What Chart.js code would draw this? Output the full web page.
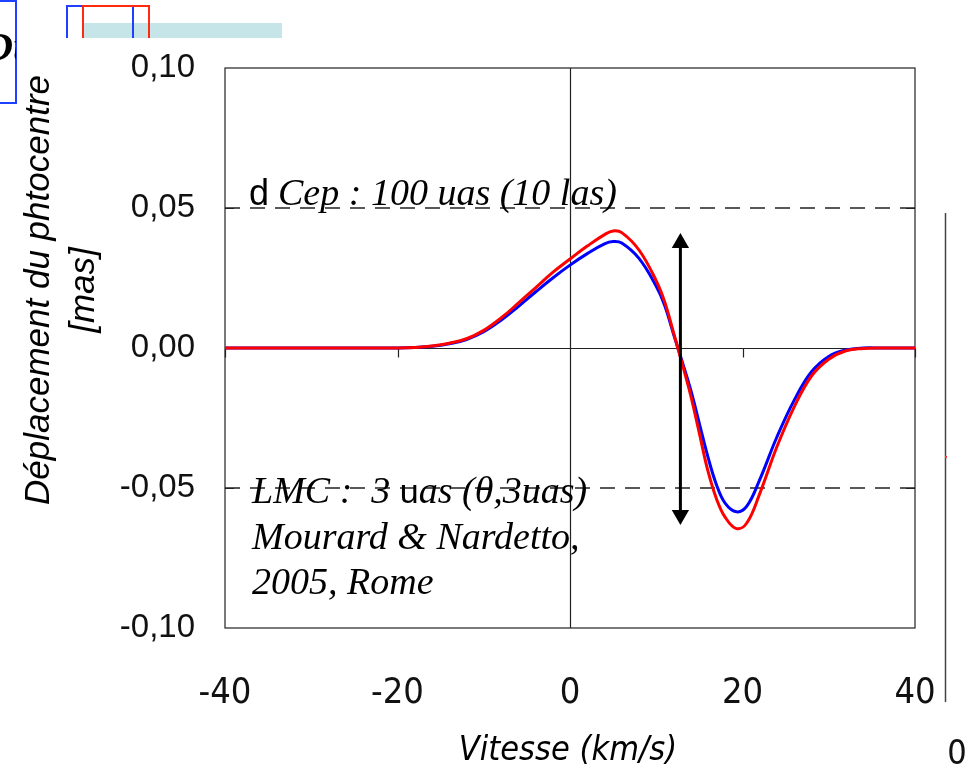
<!DOCTYPE html>
<html>
<head>
<meta charset="utf-8">
<script src="https://cdn.jsdelivr.net/npm/chart.js@4.4.1/dist/chart.umd.min.js"></script>
<style>
html, body { margin: 0; padding: 0; background: #fff; }
canvas { display: block; }
</style>
</head>
<body>
<canvas id="chart" width="972" height="772"></canvas>
<script>
// vitesse en km/s
var vitesse = [-40, -35, -30, -25, -22, -20, -18, -16, -14, -12, -10, -8, -6, -4, -2, 0, 2, 4, 5, 6, 8, 10, 11, 12, 13,
               14, 15, 16, 17, 18, 19.3, 20.5, 22, 24, 26, 28, 30, 32, 34, 36, 38, 40];
// déplacement du photocentre (mas)
var deplBleu = [0, 0, 0, 0, 0, 0, 0.0002, 0.0006, 0.0015, 0.003, 0.0058, 0.0099, 0.0148, 0.0200, 0.0250, 0.0296, 0.0337, 0.0372, 0.0380, 0.0375, 0.0320, 0.0220, 0.0150, 0.0050, -0.0048,
                -0.0150, -0.0270, -0.0390, -0.0490, -0.0555, -0.0585, -0.0565, -0.0470, -0.0317, -0.0186, -0.0085, -0.0030, -0.0007, 0, 0, 0, 0];
var deplRouge = [0, 0, 0, 0, 0, 0, 0.0002, 0.0007, 0.0017, 0.0033, 0.0063, 0.0107, 0.0160, 0.0215, 0.0270, 0.0318, 0.0364, 0.0405, 0.0418, 0.0412, 0.0350, 0.0240, 0.0163, 0.0055, -0.0055,
                 -0.0170, -0.0305, -0.0440, -0.0540, -0.0605, -0.0645, -0.0625, -0.0520, -0.0352, -0.0210, -0.0100, -0.0040, -0.0010, -0.0002, 0, 0, 0];
var xTicks = [-40, -20, 0, 20, 40];
var yTicks = [-0.10, -0.05, 0, 0.05, 0.10];
var seuils = [0.05, -0.05];
var flecheX = 12.8;
var flecheY = [0.0375, -0.0596];

function pts(xs, ys) {
    return xs.map(function (x, i) { return { x: x, y: ys[i] }; });
}

var sansNarrow = "'Liberation Sans Narrow', 'DejaVu Sans Condensed', 'Liberation Sans', Arial, sans-serif";
var serif = "'Liberation Serif', 'Times New Roman', serif";
var sans = "'Liberation Sans', Arial, sans-serif";

// fond blanc, restes de la diapo en haut à gauche
var fond = {
    id: "fond",
    beforeDraw: function (chart) {
        var ctx = chart.ctx;
        ctx.save();
        ctx.fillStyle = "#fff";
        ctx.fillRect(0, 0, chart.width, chart.height);
        ctx.fillStyle = "#c5e5e8";
        ctx.fillRect(83, 23, 199, 16);
        ctx.lineWidth = 2;
        ctx.strokeStyle = "#2040ff";
        ctx.strokeRect(67, 6, 66, 40);
        ctx.strokeStyle = "#ff2a10";
        ctx.strokeRect(83, 6, 66, 40);
        ctx.strokeStyle = "#2040ff";
        ctx.strokeRect(-4, 1, 20, 102);
        ctx.beginPath();
        ctx.rect(0, 0, 16, 103);
        ctx.clip();
        ctx.fillStyle = "#000";
        ctx.font = "italic bold 40px " + serif;
        ctx.fillText("Du", -16, 60);
        ctx.restore();
        ctx.save();
        ctx.beginPath();
        ctx.rect(330, 0, 150, 38);
        ctx.clip();
        ctx.fillStyle = "#000";
        ctx.font = "italic 36px " + serif;
        ctx.fillText("10 las", 350, 64);
        ctx.restore();
        ctx.save();
        ctx.fillStyle = "#fff";
        ctx.fillRect(18, 38, 954, 734);
        ctx.restore();
    },
    beforeDatasetsDraw: function (chart) {
        var ctx = chart.ctx, a = chart.chartArea;
        var xs = chart.scales.x, ys = chart.scales.y;
        ctx.save();
        ctx.strokeStyle = "#222";
        ctx.lineWidth = 1.2;
        ctx.strokeRect(a.left, a.top, a.right - a.left, a.bottom - a.top);
        var x0 = Math.round(xs.getPixelForValue(0)) + 0.5;
        var y0 = Math.round(ys.getPixelForValue(0)) + 0.5;
        ctx.beginPath();
        ctx.moveTo(x0, a.top); ctx.lineTo(x0, a.bottom);
        ctx.moveTo(a.left, y0); ctx.lineTo(a.right, y0);
        xTicks.forEach(function (v) {
            var px = Math.round(xs.getPixelForValue(v)) + 0.5;
            ctx.moveTo(px, y0); ctx.lineTo(px, y0 + 9);
        });
        seuils.forEach(function (v) {
            var py = Math.round(ys.getPixelForValue(v)) + 0.5;
            ctx.moveTo(a.left, py); ctx.lineTo(a.left + 9, py);
            ctx.moveTo(a.right - 9, py); ctx.lineTo(a.right, py);
        });
        ctx.stroke();
        ctx.restore();
    },
    afterDatasetsDraw: function (chart) {
        var ctx = chart.ctx;
        ctx.save();
        ctx.fillStyle = "#000";
        ctx.textBaseline = "alphabetic";
        // texte dCep
        var x = 249;
        ctx.font = "36px " + sans;
        ctx.fillText("d", x, 205);
        x += ctx.measureText("d").width + 9;
        ctx.font = "italic 38px " + serif;
        ctx.fillText("Cep : 100 uas (10 las)", x, 205);
        // texte LMC
        x = 252;
        ctx.font = "italic 38px " + serif;
        ctx.fillText("LMC :  3 ", x, 503);
        x += ctx.measureText("LMC :  3 ").width;
        ctx.font = "34px " + sans;
        ctx.fillText("u", x, 503);
        x += ctx.measureText("u").width;
        ctx.font = "italic 38px " + serif;
        ctx.fillText("as (\u03b8,3uas)", x, 503);
        ctx.fillText("Mourard & Nardetto,", 252, 549);
        ctx.fillText("2005, Rome", 252, 594);
        // titres des axes
        ctx.textAlign = "center";
        ctx.font = "italic 34px " + sansNarrow;
        ctx.fillText("Vitesse (km/s)", 568, 760);
        ctx.save();
        ctx.translate(49, 290);
        ctx.rotate(-Math.PI / 2);
        ctx.font = "italic 35px " + sans;
        ctx.fillText("D\u00e9placement du phtocentre", 0, 0);
        ctx.fillText("[mas]", 0, 45);
        ctx.restore();
        // trait à droite
        ctx.strokeStyle = "#444";
        ctx.lineWidth = 1.5;
        ctx.beginPath();
        ctx.moveTo(945.5, 213); ctx.lineTo(945.5, 702);
        ctx.stroke();
        ctx.fillStyle = "#f33";
        ctx.fillRect(945, 456, 2, 2);
        ctx.fillStyle = "#111";
        ctx.font = "34px " + sansNarrow;
        ctx.fillText("0", 957, 764);
        ctx.restore();
    }
};

new Chart(document.getElementById("chart"), {
    type: "line",
    data: {
        datasets: [
            {
                label: "fleche",
                data: pts([flecheX, flecheX], flecheY),
                borderColor: "#000",
                backgroundColor: "#000",
                borderWidth: 3,
                pointStyle: "triangle",
                pointRadius: 10,
                pointRotation: [0, 180],
                pointBorderWidth: 0,
                order: 0
            },
            {
                label: "rouge",
                data: pts(vitesse, deplRouge),
                borderColor: "#ff0000",
                borderWidth: 3,
                pointRadius: 0,
                tension: 0.4,
                order: 1
            },
            {
                label: "bleu",
                data: pts(vitesse, deplBleu),
                borderColor: "#0000ff",
                borderWidth: 3,
                pointRadius: 0,
                tension: 0.4,
                order: 2
            },
            {
                label: "haut",
                data: pts([-40, 40], [seuils[0], seuils[0]]),
                borderColor: "#222",
                borderWidth: 1.4,
                borderDash: [15, 10],
                pointRadius: 0,
                order: 3
            },
            {
                label: "bas",
                data: pts([-40, 40], [seuils[1], seuils[1]]),
                borderColor: "#222",
                borderWidth: 1.4,
                borderDash: [15, 10],
                pointRadius: 0,
                order: 4
            }
        ]
    },
    options: {
        responsive: false,
        animation: false,
        layout: { padding: { left: 0, top: 68, right: 57, bottom: 0 } },
        plugins: { legend: { display: false }, tooltip: { enabled: false } },
        scales: {
            x: {
                type: "linear",
                min: -40,
                max: 40,
                afterBuildTicks: function (s) { s.ticks = xTicks.map(function (v) { return { value: v }; }); },
                afterFit: function (s) { s.height = 144; s.paddingLeft = 0; s.paddingRight = 0; },
                grid: { display: false, drawTicks: false },
                border: { display: false },
                ticks: {
                    padding: 44,
                    color: "#111",
                    font: { family: sansNarrow, size: 36 },
                    maxRotation: 0
                }
            },
            y: {
                min: -0.1,
                max: 0.1,
                afterBuildTicks: function (s) { s.ticks = yTicks.map(function (v) { return { value: v }; }); },
                afterFit: function (s) { s.width = 225; s.paddingTop = 0; s.paddingBottom = 0; },
                grid: { display: false, drawTicks: false },
                border: { display: false },
                ticks: {
                    padding: 30,
                    color: "#111",
                    font: { family: sans, size: 33 },
                    callback: function (v) { return v.toFixed(2).replace(".", ","); }
                }
            }
        }
    },
    plugins: [fond]
});
</script>
</body>
</html>
